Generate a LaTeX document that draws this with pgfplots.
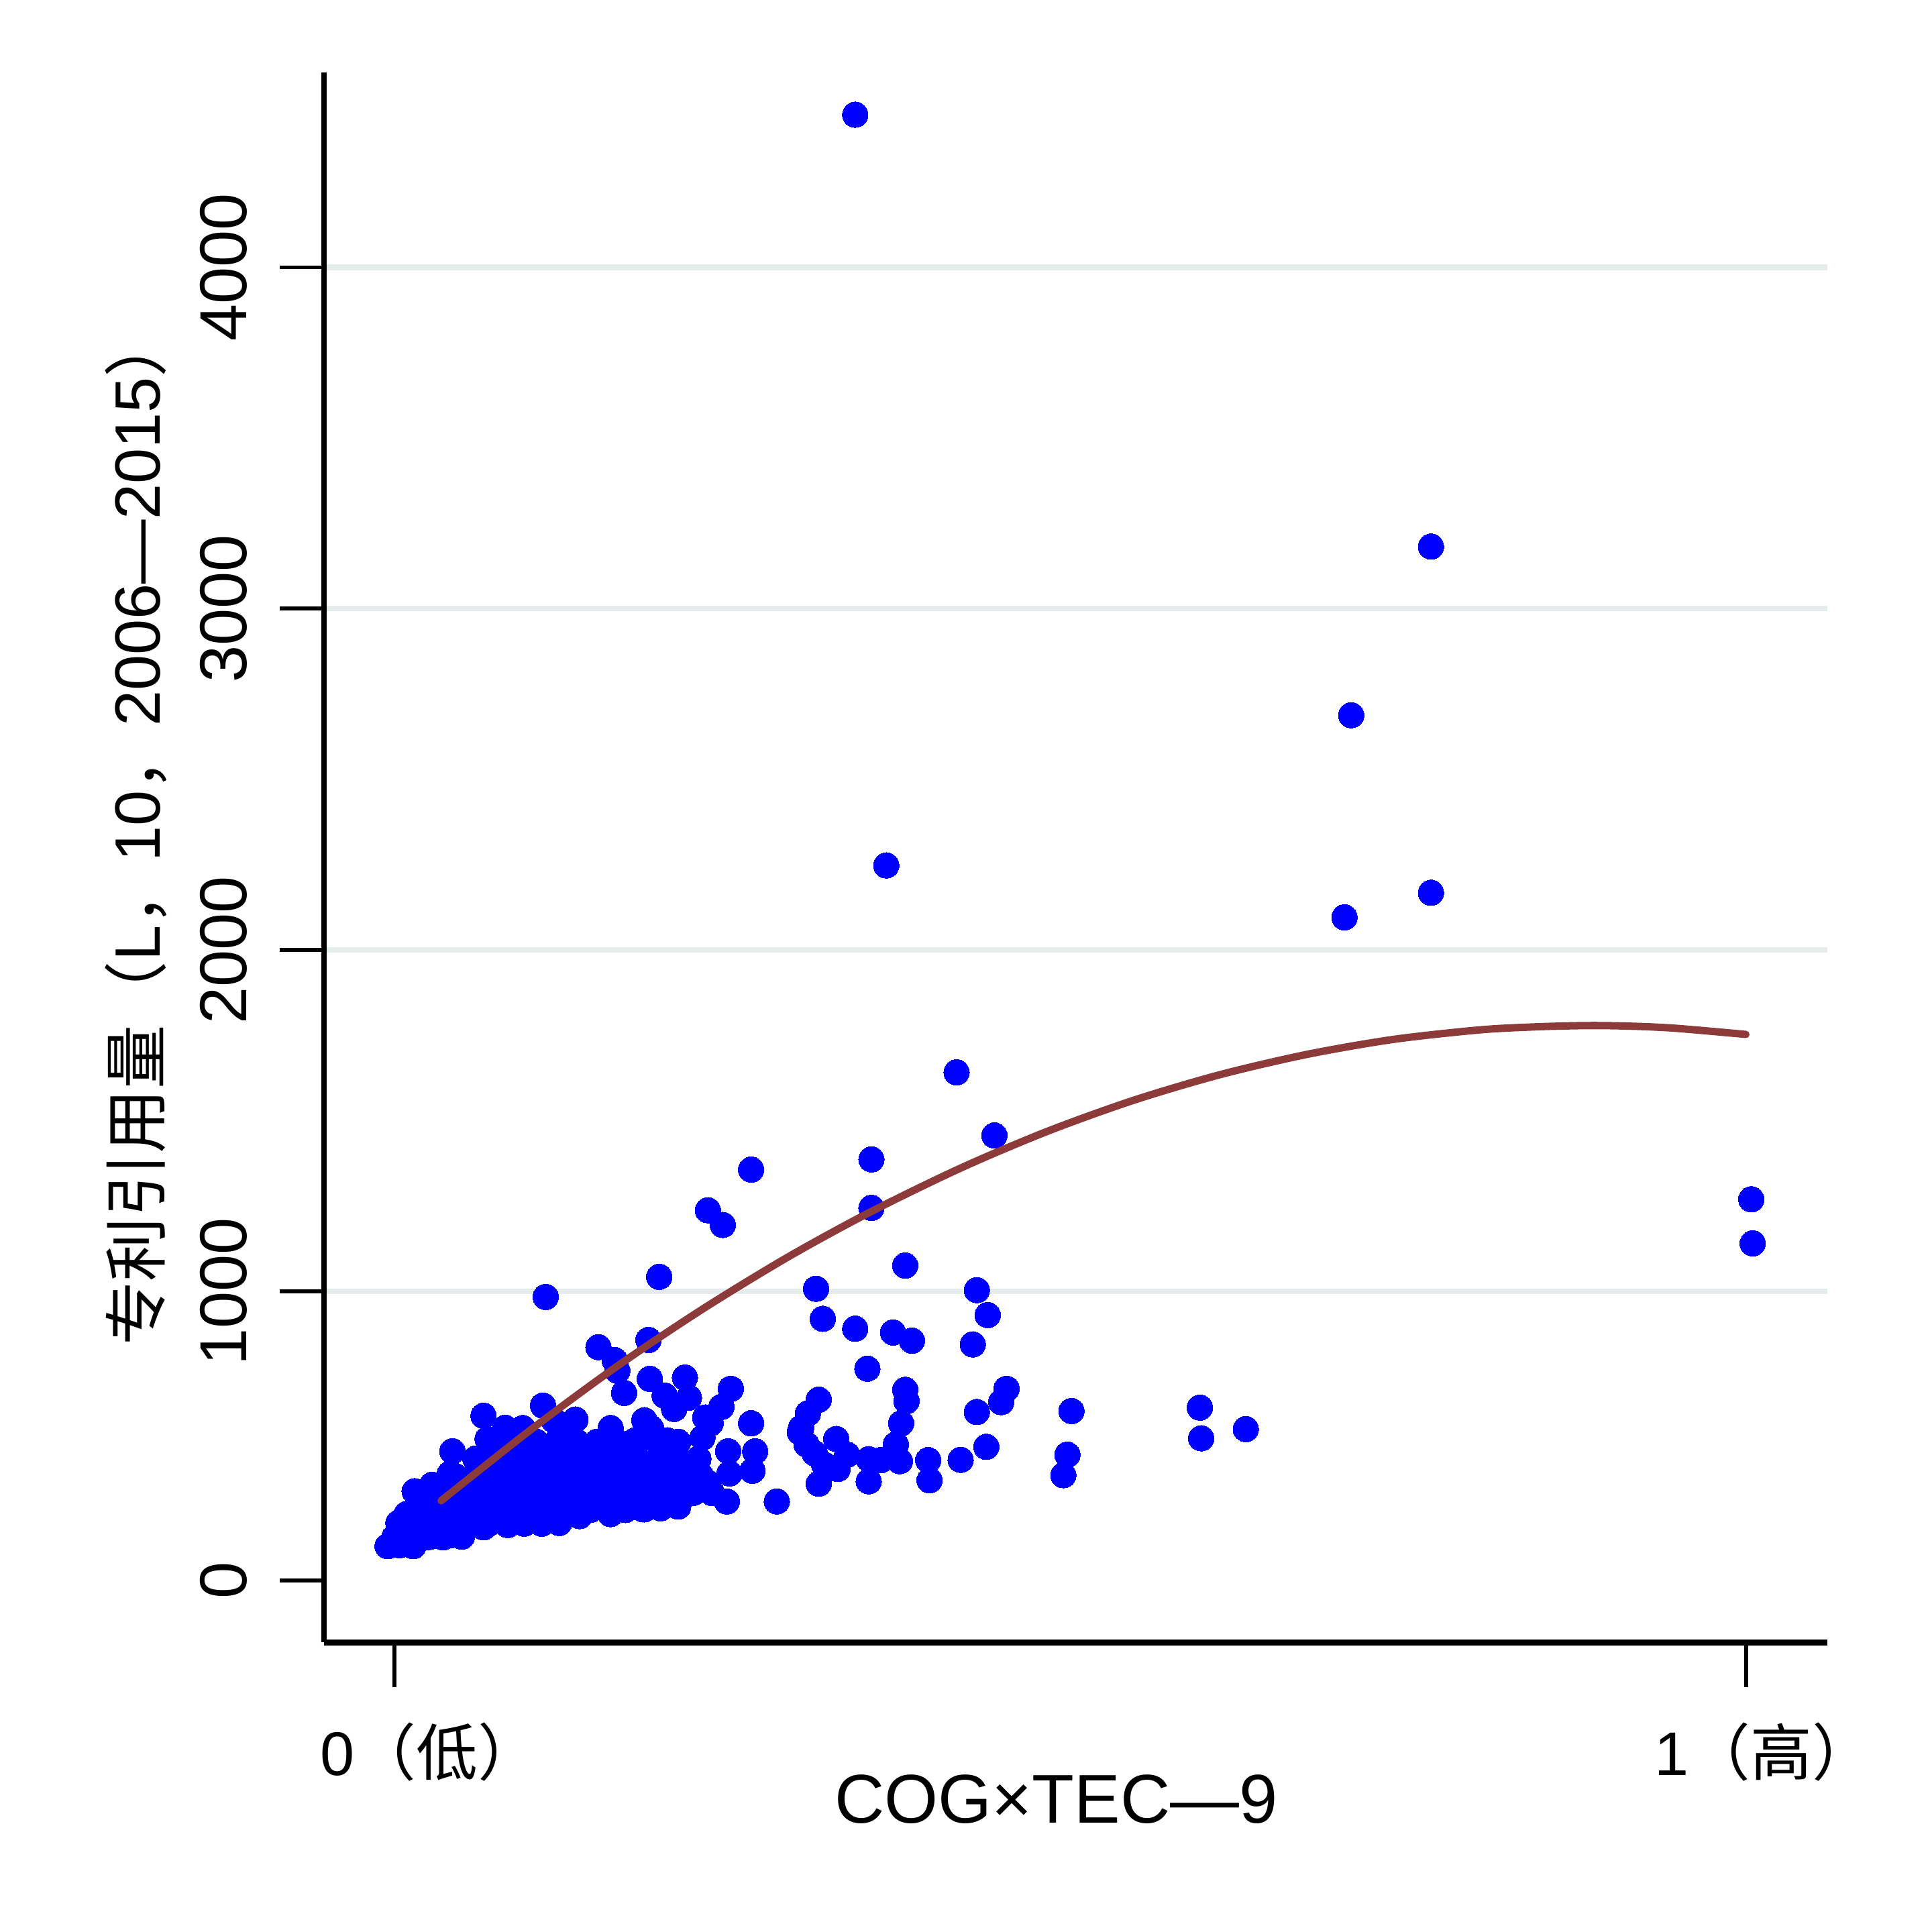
\documentclass[border=0pt]{standalone}
\usepackage{fontspec}
\setmainfont{Liberation Sans}
\newfontfamily\cjk{Noto Sans CJK SC}
\usepackage{pgfplots}
\pgfplotsset{compat=1.18}
\definecolor{fitline}{RGB}{140,58,58}
\definecolor{gridc}{RGB}{229,236,236}
\definecolor{ptblue}{RGB}{0,0,255}
\begin{document}
\begin{tikzpicture}
\useasboundingbox (0,0) rectangle (392pt,392pt);
\begin{axis}[
  at={(65.75pt,58.75pt)}, anchor=south west,
  scale only axis, width=305.0pt, height=318.5pt,
  xmin=-0.052, xmax=1.0602, ymin=-28, ymax=4570,
  axis x line*=bottom, axis y line*=left,
  axis line style={line width=1.2pt, -},
  every outer x axis line/.append style={-},
  every outer y axis line/.append style={-},
  xtick={0,1},
  xticklabels={{\hspace*{7pt}0{\cjk （低）}},{1{\cjk （高）}}},
  ytick={1000,2000,3000,4000},
  yticklabels={1000,2000,3000,4000},
  extra y ticks={153}, extra y tick labels={0},
  extra y tick style={grid=none},
  ymajorgrids, grid style={gridc, line width=1.1pt},
  tick align=outside, major tick length=9pt,
  tick style={line width=0.8pt, black},
  yticklabel shift=3pt,
  xticklabel shift=3.75pt,
  yticklabel style={rotate=90, anchor=south, font=\fontsize{13.5}{15}\selectfont},
  xticklabel style={xshift=3.75pt, font=\fontsize{12.5}{15}\selectfont},
  xlabel={COG×TEC—9},
  ylabel={{\cjk 专利引用量（}L{\cjk ，}10{\cjk ，}2006—2015{\cjk ）}},
  xlabel style={at={(axis description cs:0.487,-0.1)}, anchor=center, font=\fontsize{14}{16}\selectfont},
  ylabel style={at={(axis description cs:-0.1252,0.518)}, anchor=center, rotate=0, font=\fontsize{13}{15}\selectfont},
  clip=false,
  clip mode=individual,
]
\addplot[only marks, mark=*, mark size=2.6pt, mark options={draw=ptblue, fill=ptblue, line width=0pt}] coordinates {
(0.341,4447) (0.767,3182) (0.708,2688) (0.364,2248) (0.703,2096) (0.767,2168)
(0.416,1642) (0.444,1457) (0.353,1387) (0.264,1357) (0.232,1238) (0.243,1195)
(0.353,1245) (1.004,1270) (1.005,1141) (0.378,1076) (0.196,1043) (0.112,984)
(0.312,1008) (0.431,1004) (0.317,920) (0.341,891) (0.369,880) (0.383,856)
(0.439,931) (0.428,845) (0.350,774) (0.378,712) (0.379,679) (0.375,614)
(0.371,552) (0.374,503) (0.360,506) (0.351,509) (0.351,444) (0.395,506)
(0.396,447) (0.419,507) (0.438,545) (0.431,647) (0.449,676) (0.453,715)
(0.501,650) (0.498,522) (0.495,462)
(0.314,683) (0.306,643) (0.301,601) (0.300,588) (0.305,552) (0.311,526)
(0.327,568) (0.335,522) (0.328,480) (0.318,493) (0.314,437)
(0.234,614) (0.264,614) (0.267,532) (0.265,475) (0.248,467) (0.283,385)
(0.596,660) (0.597,570) (0.630,597)
(0.151,837) (0.163,799) (0.165,768) (0.188,858) (0.189,744) (0.215,748)
(0.170,703) (0.200,695) (0.218,689) (0.249,715) (0.242,662) (0.185,623)
(0.207,656) (0.230,631) (0.228,572) (0.110,666) (0.134,625) (0.118,623)
(0.066,636) (0.082,601) (0.069,568) (0.043,532) (0.063,507) (0.041,466)
(0.015,415) (0.105,552) (0.128,562) (0.148,538) (0.165,538) (0.178,564)
(0.202,564) (0.247,532) (0.232,440) (0.215,420) (0.246,385) (0.202,377)
(0.185,362) (0.160,348) (0.137,342) (0.120,365) (0.100,328) (0.084,316)
(0.066,309) (0.043,287) (0.028,283) (0.014,254) (-0.005,254) (0.004,257)
(0.003,322) (0.009,348) (0.028,434)
(0.000,280) (0.012,280) (0.024,280) (0.036,280) (0.050,282)
(0.005,320) (0.018,320) (0.031,320) (0.044,320) (0.057,320) (0.070,320)
(0.083,320) (0.096,320) (0.109,320) (0.122,322)
(0.015,360) (0.028,360) (0.041,360) (0.054,360) (0.067,360) (0.080,360)
(0.093,360) (0.106,360) (0.119,360) (0.132,360) (0.145,360) (0.158,360)
(0.171,360) (0.184,362) (0.197,365) (0.210,370)
(0.025,410) (0.039,410) (0.053,410) (0.067,410) (0.081,410) (0.095,410)
(0.109,410) (0.123,410) (0.137,410) (0.151,410) (0.165,410) (0.179,410)
(0.193,410) (0.207,410) (0.221,410) (0.235,410)
(0.045,460) (0.059,460) (0.073,460) (0.087,460) (0.101,460) (0.115,460)
(0.129,460) (0.143,460) (0.157,460) (0.171,460) (0.185,460) (0.199,460)
(0.213,460) (0.227,460)
(0.060,510) (0.075,510) (0.090,510) (0.105,510) (0.120,510) (0.135,510)
(0.150,510) (0.165,510) (0.180,510) (0.195,510) (0.210,510) (0.225,510)
(0.075,560) (0.090,560) (0.105,560) (0.120,560) (0.135,560) (0.150,560)
(0.165,560) (0.180,560) (0.195,560) (0.210,560)
(0.095,600) (0.125,600) (0.160,600) (0.190,600)
};
\addplot[no marks, smooth, color=fitline, line width=1.5pt, line cap=round] coordinates {
(0.0346,387) (0.1003,593) (0.1641,779) (0.2279,948) (0.2917,1102) (0.3528,1234)
(0.4193,1362) (0.4831,1469) (0.5469,1560) (0.6108,1635) (0.6746,1694)
(0.7384,1738) (0.8022,1766) (0.8432,1775) (0.8842,1779) (0.9161,1777)
(0.9480,1771) (1.0000,1753)
};
\end{axis}
\end{tikzpicture}
\end{document}
